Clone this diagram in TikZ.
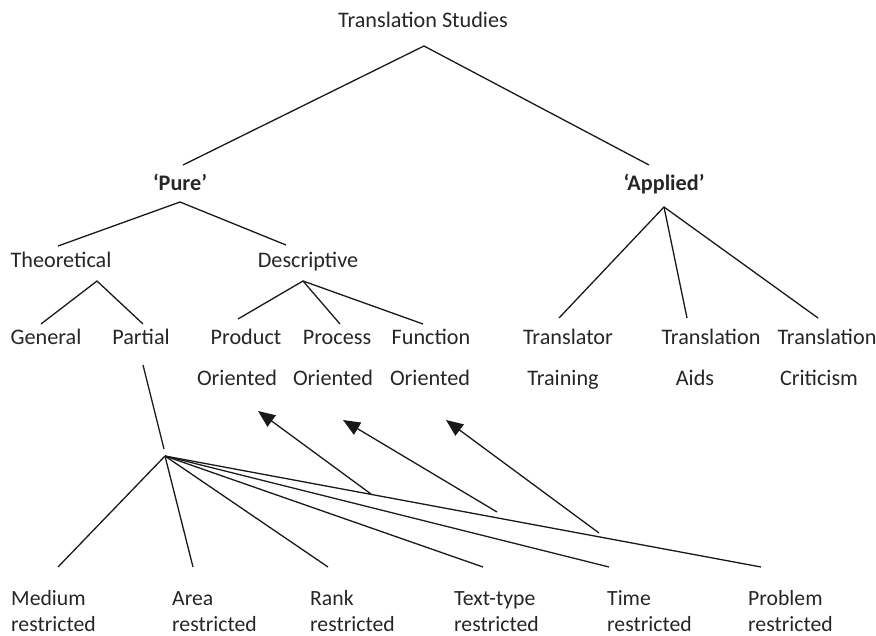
\documentclass[tikz,border=0pt]{standalone}
\usepackage{fontspec}
\setmainfont{Carlito}
\usetikzlibrary{arrows.meta}
\begin{document}
\begin{tikzpicture}[x=1pt,y=-1pt,
  lbl/.style={font=\fontsize{22.2}{26}\selectfont, inner sep=0pt, anchor=base, text=black!85},
  blbl/.style={lbl, font=\fontsize{22.2}{26}\selectfont\bfseries},
  bot/.style={font=\fontsize{21.7}{26}\selectfont, inner sep=0pt, anchor=base west, align=left, text=black!85},
  ln/.style={line width=1.3pt, black!90},
  arr/.style={ln, -{Triangle[length=17pt,width=14pt]}}]
\useasboundingbox (0,0) rectangle (876,635);
% text
\node[lbl] (ts) at (423,27) {Translation Studies};
\node[blbl] (pure) at (180,190) {‘Pure’};
\node[blbl] (appl) at (664,190) {‘Applied’};
\node[lbl] (theo) at (61,267) {Theoretical};
\node[lbl] (desc) at (308,267) {Descriptive};
\node[lbl] (gen) at (46,344) {General};
\node[lbl] (part) at (141,344) {Partial};
\node[lbl] (prod) at (246,344) {Product};
\node[lbl] (proc) at (337,344) {Process};
\node[lbl] (func) at (431,344) {Function};
\node[lbl] (prodo) at (237,385) {Oriented};
\node[lbl] (proco) at (333,385) {Oriented};
\node[lbl] (funco) at (430,385) {Oriented};
\node[lbl] (trtr) at (568,344) {Translator};
\node[lbl] (trai) at (711,344) {Translation};
\node[lbl] (trcr) at (827,344) {Translation};
\node[lbl] (trtr2) at (563,385) {Training};
\node[lbl] (trai2) at (695,385) {Aids};
\node[lbl] (trcr2) at (819,385) {Criticism};
\node[bot] (med) at (11,631) {Medium\\restricted};
\node[bot] (area) at (172,631) {Area\\restricted};
\node[bot] (rank) at (310,631) {Rank\\restricted};
\node[bot] (text) at (454,631) {Text-type\\restricted};
\node[bot] (time) at (607,631) {Time\\restricted};
\node[bot] (prob) at (748,631) {Problem\\restricted};
% junction points
\coordinate (tsA) at (424,46);
\coordinate (tsL) at (183,165);
\coordinate (tsR) at (649,165);
\coordinate (puA) at (180,202);
\coordinate (puL) at (58,246);
\coordinate (puR) at (286,245);
\coordinate (apA) at (664,207);
\coordinate (apL) at (559,318);
\coordinate (apM) at (687,318);
\coordinate (apR) at (818,318);
\coordinate (thA) at (97,281);
\coordinate (thL) at (41,324);
\coordinate (thR) at (143,324);
\coordinate (deA) at (303,281);
\coordinate (deL) at (238,319);
\coordinate (deM) at (340,324);
\coordinate (deR) at (423,324);
\coordinate (paT) at (143,365);
\coordinate (paB) at (164,449);
\coordinate (fan) at (165,456);
\coordinate (f1) at (58,567);
\coordinate (f2) at (193,567);
\coordinate (f3) at (328,567);
\coordinate (f4) at (483,567);
\coordinate (f5) at (609,567);
\coordinate (f6) at (761,567);
\coordinate (a1s) at (371,494);
\coordinate (a1e) at (258,411);
\coordinate (a2s) at (497,512);
\coordinate (a2e) at (343,420);
\coordinate (a3s) at (599,533);
\coordinate (a3e) at (446,420);
% connectors
\draw[ln] (tsL) -- (tsA) -- (tsR);
\draw[ln] (puL) -- (puA) -- (puR);
\draw[ln] (apL) -- (apA) -- (apR);
\draw[ln] (apA) -- (apM);
\draw[ln] (thL) -- (thA) -- (thR);
\draw[ln] (deL) -- (deA) -- (deR);
\draw[ln] (deA) -- (deM);
\draw[ln] (paT) -- (paB);
\foreach \e in {f1,f2,f3,f4,f5,f6} \draw[ln] (fan) -- (\e);
\draw[arr] (a1s) -- (a1e);
\draw[arr] (a2s) -- (a2e);
\draw[arr] (a3s) -- (a3e);
\end{tikzpicture}
\end{document}
